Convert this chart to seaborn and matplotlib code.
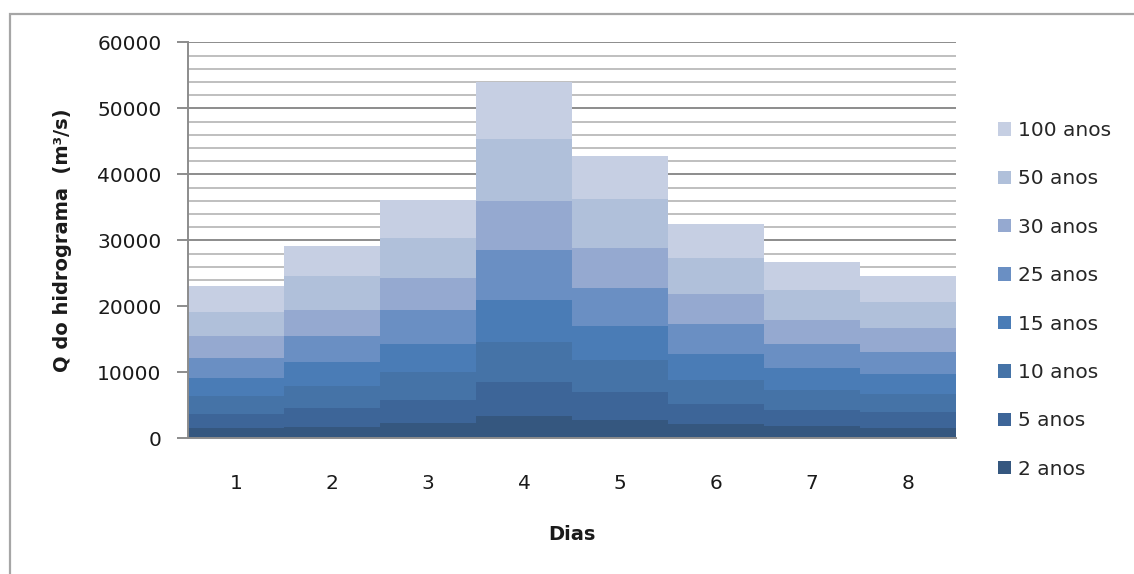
import matplotlib
matplotlib.use("Agg")
import matplotlib.pyplot as plt
from matplotlib.patches import Rectangle, Patch
from matplotlib.ticker import MultipleLocator
import numpy as np
import pandas as pd
import seaborn as sns

# Peak discharge of the hydrograph per day, for each return period (m³/s)
dias = ["1", "2", "3", "4", "5", "6", "7", "8"]
periodos = ["100 anos", "50 anos", "30 anos", "25 anos",
            "15 anos", "10 anos", "5 anos", "2 anos"]
q_100 = [23080, 29140, 36110, 54030, 42820, 32470, 26770, 24590]
q_50 = [19190, 24590, 30400, 45300, 36210, 27370, 22470, 20700]
q_30 = [15560, 19440, 24340, 35960, 28890, 21920, 17930, 16715]
q_25 = [12120, 15550, 19440, 28580, 22830, 17270, 14290, 13080]
q_15 = [9090, 11615, 14290, 21010, 17020, 12780, 10605, 9700]
q_10 = [6410, 7930, 10000, 14645, 11870, 8790, 7320, 6720]
q_5 = [3690, 4545, 5810, 8535, 7020, 5200, 4240, 3940]
q_2 = [1515, 1770, 2370, 3380, 2780, 2120, 1870, 1615]

series = [q_100, q_50, q_30, q_25, q_15, q_10, q_5, q_2]
cores = ["#c6cfe3", "#b0c0da", "#95a9d0", "#6a8fc3",
         "#4a7cb6", "#4573a7", "#3d6598", "#35577f"]

df = pd.DataFrame({
    "Dia": np.repeat([dias], len(periodos), axis=0).ravel(),
    "Periodo": np.repeat(periodos, len(dias)),
    "Q": np.concatenate(series),
})

sns.set_theme(style="white")
plt.rcParams["font.family"] = ["DejaVu Sans"]

fig = plt.figure(figsize=(11.34, 5.74), dpi=100)
ax = fig.add_axes([188 / 1134, 1 - 438.3 / 574, (956 - 188) / 1134, (438.3 - 42.3) / 574])

# Overlapping columns: larger return periods drawn first, smaller ones in front
sns.barplot(data=df, x="Dia", y="Q", hue="Periodo", hue_order=periodos,
            order=dias, palette=cores, dodge=False, width=1.0,
            saturation=1.0, linewidth=0, ax=ax, legend=False, zorder=3)

ax.set_xlim(-0.5, 7.5)
ax.set_ylim(0, 60000)
ax.yaxis.set_major_locator(MultipleLocator(10000))
ax.yaxis.set_minor_locator(MultipleLocator(2000))
ax.grid(False)
ax.grid(True, axis="y", which="major", color="#8c8c8c", linewidth=1.4, zorder=0)
ax.grid(True, axis="y", which="minor", color="#b4b4b4", linewidth=1.2, zorder=0)
ax.set_axisbelow(True)

for s in ["top", "right"]:
    ax.spines[s].set_visible(False)
for s in ["left", "bottom"]:
    ax.spines[s].set_color("#8c8c8c")
    ax.spines[s].set_linewidth(1.4)
    ax.spines[s].set_zorder(5)

ax.tick_params(axis="y", which="major", direction="out", length=8, width=1.4,
               color="#8c8c8c", pad=11, labelsize=14.5, labelcolor="#1a1a1a", left=True)
ax.tick_params(axis="y", which="minor", length=0)
ax.tick_params(axis="x", length=0, pad=26, labelsize=14.5, labelcolor="#1a1a1a")

ax.set_ylabel("Q do hidrograma  (m³/s)", fontsize=14, fontweight="bold",
              color="#1a1a1a", labelpad=18)
ax.set_xlabel("Dias", fontsize=14, fontweight="bold", color="#1a1a1a", labelpad=23)

handles = [Patch(facecolor=c, edgecolor="none") for c in cores]
fig.legend(handles, periodos, loc="upper left", bbox_to_anchor=(998 / 1134, 1 - 121 / 574),
           frameon=False, fontsize=14.5, handlelength=0.65, handleheight=0.65,
           handletextpad=0.35, labelspacing=1.46, borderpad=0, borderaxespad=0)

# Chart area border
fig.add_artist(Rectangle((10 / 1134, -0.2), 1.2, 1.2 - 14 / 574, transform=fig.transFigure,
                         fill=False, edgecolor="#a6a6a6", linewidth=1.6, clip_on=False))

fig.savefig("out.png", dpi=100, facecolor="white")
